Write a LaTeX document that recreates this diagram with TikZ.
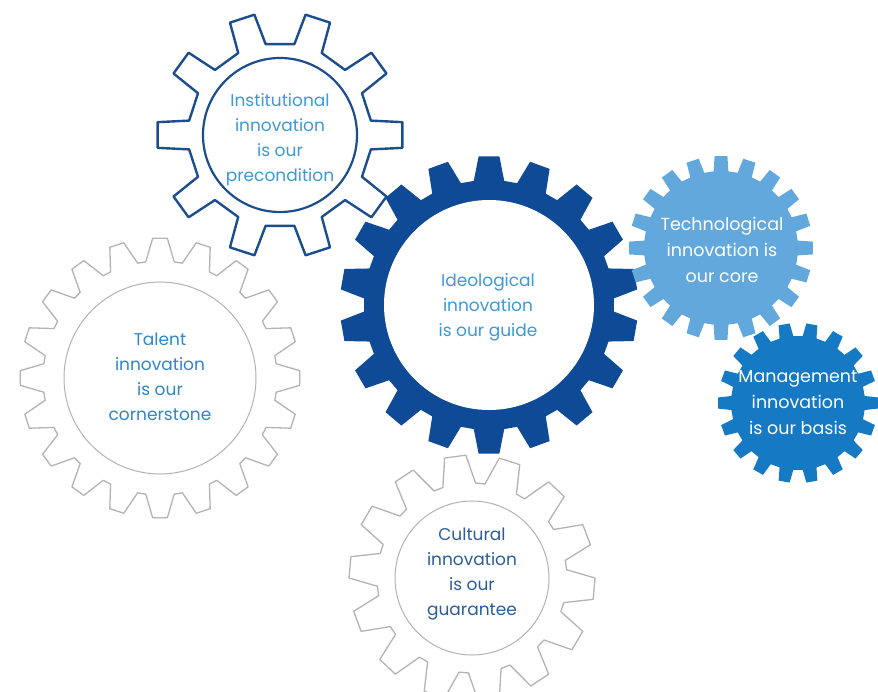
\documentclass[tikz,border=0pt]{standalone}
\usepackage{fontspec}
\setmainfont{Poppins}
\usepackage{tikz}

\definecolor{ideoBlue}{HTML}{0E4A95}
\definecolor{instBlue}{HTML}{1C4E8E}
\definecolor{techBlue}{HTML}{63A8DC}
\definecolor{mgmtBlue}{HTML}{1679C3}
\definecolor{textBlue}{HTML}{3C9AD7}
\definecolor{talentBlue}{HTML}{2F86C8}
\definecolor{cultBlue}{HTML}{2C5D9B}
\definecolor{gearGrey}{HTML}{B3B3B3}

% teeth, root radius, tip radius, tip half angle, base half angle, offset
\newcommand{\gearpath}[6]{%
  ({#6+360/#1-#5}:#2)
  \foreach \k in {1,...,#1}{
    -- ({#6+360*\k/#1-#5}:#2) -- ({#6+360*\k/#1-#4}:#3)
    -- ({#6+360*\k/#1+#4}:#3) -- ({#6+360*\k/#1+#5}:#2)
  } -- cycle}

\begin{document}
\begin{tikzpicture}[x=1pt,y=-1pt,line join=round,
    gear text/.style={align=center,inner sep=0pt,font=\fontsize{17}{25}\selectfont},
    big text/.style={gear text,font=\fontsize{17.5}{26}\selectfont,text=white},
    grey gear/.style={draw=gearGrey,fill=white,line width=1.3pt},
    grey ring/.style={draw=gearGrey,line width=1pt}]

  \useasboundingbox (0,0) rectangle (878,691);

  \coordinate (talent) at (160,378);
  \coordinate (cult) at (472,578);
  \coordinate (ideo) at (489,305);
  \coordinate (inst) at (280,135);
  \coordinate (tech) at (721,248);
  \coordinate (mgmt) at (798,403);

  % grey gears
  \path[grey gear,shift={(talent)}] \gearpath{20}{117}{140}{3}{7}{0};
  \path[grey ring] (talent) circle[radius=96pt];
  \node[gear text,text=talentBlue] (talent text) at (160,377)
    {Talent\\innovation\\is our\\cornerstone};

  \path[grey gear,shift={(cult)}] \gearpath{14}{95}{123}{5}{10}{5};
  \path[grey ring] (cult) circle[radius=77pt];
  \node[gear text,text=cultBlue] (cult text) at (472,574)
    {Cultural\\innovation\\is our\\guarantee};

  % main gear
  \path[fill=ideoBlue,shift={(ideo)}] \gearpath{18}{125}{149}{4}{7}{10};
  \path[fill=white] (ideo) circle[radius=105pt];
  \node[gear text,text=textBlue] (ideo text) at (488,307)
    {Ideological\\innovation\\is our guide};

  \path[draw=instBlue,fill=white,line width=2.4pt,shift={(inst)}]
    \gearpath{10}{92}{123}{6}{9}{0};
  \path[draw=instBlue,line width=2.2pt] (inst) circle[radius=77pt];
  \node[gear text,text=textBlue] (inst text) at (280,140)
    {Institutional\\innovation\\is our\\precondition};

  % filled gears on the right
  \path[fill=techBlue,shift={(tech)}] \gearpath{20}{77}{92}{4}{5.5}{0};
  \node[big text] (tech text) at (722,250)
    {Technological\\innovation is\\our core};

  \path[fill=mgmtBlue,shift={(mgmt)}] \gearpath{18}{67}{80}{4}{6}{0};
  \node[big text] (mgmt text) at (798,403)
    {Management\\innovation\\is our basis};
\end{tikzpicture}
\end{document}
